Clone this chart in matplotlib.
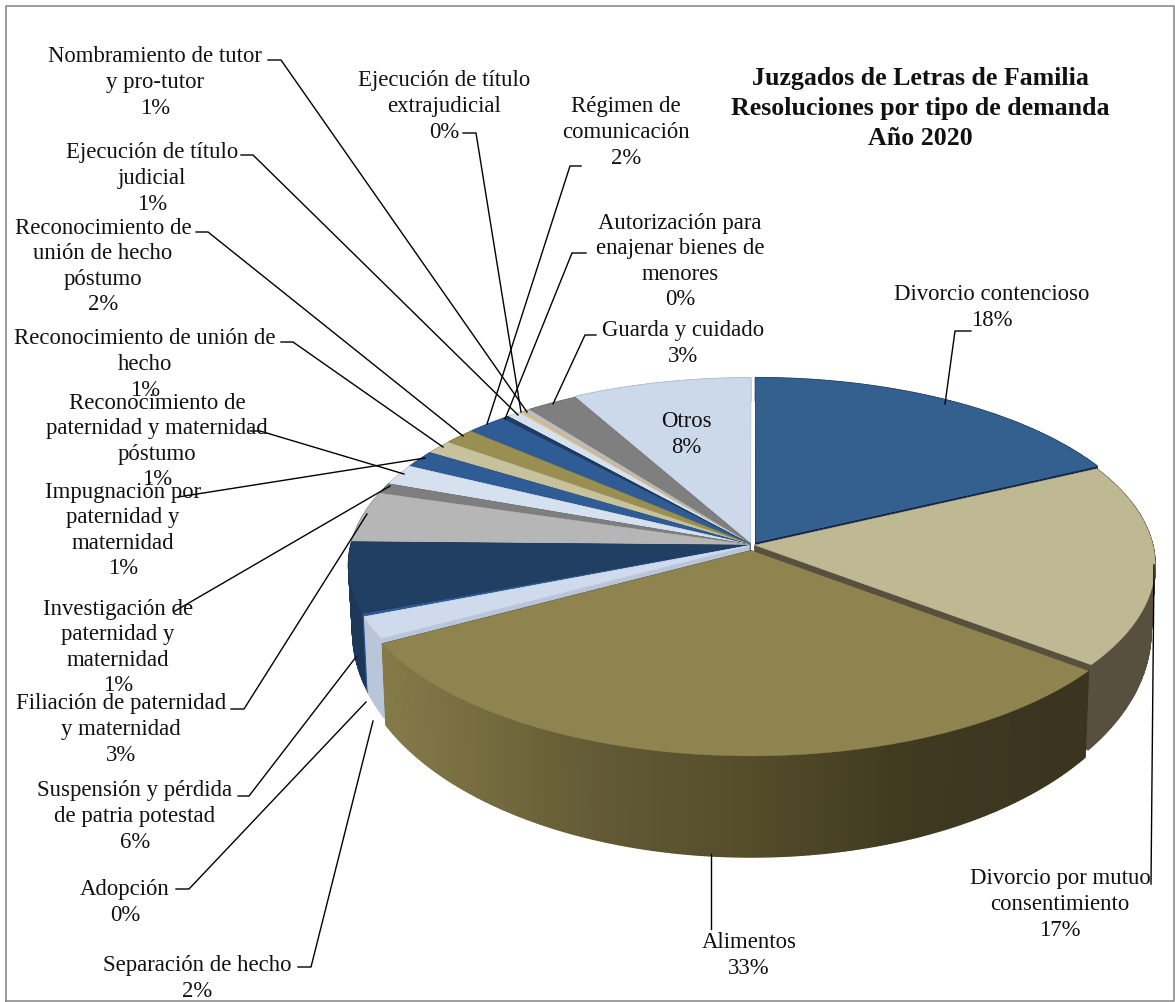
import numpy as np
import matplotlib
matplotlib.use('Agg')
import matplotlib.pyplot as plt
from matplotlib.colors import to_rgb

plt.rcParams['font.family'] = ['Liberation Serif', 'DejaVu Serif']

# slices, clockwise from 12 o'clock
nombres = ['Divorcio contencioso', 'Divorcio por mutuo\nconsentimiento', 'Alimentos',
           'Separación de hecho', 'Adopción', 'Suspensión y pérdida\nde patria potestad',
           'Filiación de paternidad\ny maternidad', 'Investigación de\npaternidad y\nmaternidad',
           'Impugnación por\npaternidad y\nmaternidad',
           'Reconocimiento de\npaternidad y maternidad\npóstumo',
           'Reconocimiento de unión de\nhecho', 'Reconocimiento de\nunión de hecho\npóstumo',
           'Régimen de\ncomunicación', 'Autorización para\nenajenar bienes de\nmenores',
           'Ejecución de título\njudicial', 'Ejecución de título\nextrajudicial',
           'Nombramiento de tutor\ny pro-tutor', 'Guarda y cuidado', 'Otros']
valores = [17.8, 17.7, 31.5, 1.9, 0.2, 6.2, 4.4, 0.9, 1.8, 1.5, 1.2, 1.4, 1.8, 0.3, 0.6, 0.15, 0.35, 2.3, 8.0]
etiquetas = ['18%', '17%', '33%', '2%', '0%', '6%', '3%', '1%', '1%', '1%', '1%', '2%', '2%', '0%', '1%', '0%', '1%', '3%', '8%']
colores = ['#34608F', '#BEB992', '#8F844F', '#CFDBEC', '#2F5C94', '#213E63', '#B6B6B6', '#7E7E7E', '#D6E1F0',
           '#2F5C94', '#C8C29C', '#9A8F52', '#2F5C94', '#1F3C60', '#D6E1F0', '#EBC27A', '#BDBDBD', '#7F7F7F', '#CCD9EB']
laterales = ['#14294F', '#57503F', '#3A3420', '#B9C6DA', '#2A5288', '#1D3759', '#8A8A8A', '#5E5E5E', '#A9B4C4',
             '#254A78', '#98936F', '#6F673A', '#254A78', '#182F4C', '#A9B4C4', '#B89758', '#8F8F8F', '#5F5F5F', '#9AA6B8']
separacion = [0.018, 0.007, 0.03] + [0.008] * 15 + [0.014]

# position of each text (centre x, centre y) and its leader line
pos_texto = [(992, 305), (1060, 902), (749, 953), (197, 976), (125, 900), (135, 814), (121, 727), (118, 645), (123, 528),
             (157, 439), (145, 362), (103, 264), (626, 130), (680, 259), (152, 176), (444, 104), (155, 80), (683, 341), (686, 432)]
lineas = [[(971, 332), (955, 332), (945, 405)], [(1154, 566), (1151, 885)], [(711, 855), (711, 930)],
          [(298, 968), (311, 968), (373, 722)], [(176, 890), (189, 890), (366, 703)], [(238, 797), (249, 797), (356, 658)],
          [(231, 710), (244, 710), (367, 515)], [(175, 612), (390, 487)], [(178, 498), (425, 459)],
          [(250, 432), (260, 432), (404, 475)], [(281, 343), (293, 343), (443, 448)], [(196, 233), (208, 233), (463, 437)],
          [(581, 167), (570, 167), (487, 425)], [(586, 254), (572, 254), (505, 420)], [(241, 156), (253, 156), (518, 416)],
          [(463, 134), (476, 134), (521, 413)], [(268, 61), (281, 61), (527, 413)], [(596, 336), (585, 336), (553, 405)], None]

titulo = 'Juzgados de Letras de Familia\nResoluciones por tipo de demanda\nAño 2020'

# shading along the side of Alimentos
grad_x = [385, 600, 750, 900, 1090]
grad_c = np.array([to_rgb(c) for c in ['#857A48', '#625A35', '#544D2A', '#403A21', '#3A3420']])

cx, cy, R, b, k = 752, 546, 398, 182.5, 0.1056

def proyecta(X, Y):
    s = 1 / (1 - k * Y)
    return cx + R * X * s, cy + b * Y * s

def abajo(x, y, Y):
    return cx + (x - cx) * 0.99, y + 62 + 38 * Y

fig = plt.figure(figsize=(11.75, 10.03), dpi=100)
ax = fig.add_axes([0, 0, 1, 1])
ax.set_xlim(0, 1175)
ax.set_ylim(1003, 0)
ax.axis('off')

# frame of the chart
ax.plot([5.5, 5.5, 1173.5, 1173.5, 5.5], [1002, 6.5, 6.5, 1002, 1002], color='#8C8C8C', lw=1.2)

frac = np.cumsum([0] + valores) / sum(valores) * 2 * np.pi
orden = np.argsort([-np.cos((frac[i] + frac[i + 1]) / 2) for i in range(len(valores))])

for i in orden:
    a1, a2 = frac[i], frac[i + 1]
    mid = (a1 + a2) / 2
    ex = separacion[i]
    ox, oy = ex * np.sin(mid), -ex * np.cos(mid)
    t = np.linspace(a1, a2, max(int((a2 - a1) * 120), 2))
    Xs, Ys = np.sin(t) + ox, -np.cos(t) + oy
    x, y = proyecta(Xs, Ys)
    xb, yb = abajo(x, y, Ys)
    x0, y0 = proyecta(ox, oy)
    x0b, y0b = abajo(x0, y0, oy)
    c = laterales[i]
    # radial walls
    ax.fill([x0, x[0], xb[0], x0b], [y0, y[0], yb[0], y0b], color=c, lw=0.5)
    ax.fill([x0, x[-1], xb[-1], x0b], [y0, y[-1], yb[-1], y0b], color=c, lw=0.5)
    # outer side, strip by strip
    for j in range(len(t) - 1):
        cj = c
        if i == 2:
            cj = tuple(np.interp(x[j], grad_x, grad_c[:, n]) for n in range(3))
        ax.fill([x[j], x[j + 1], xb[j + 1], xb[j]], [y[j], y[j + 1], yb[j + 1], yb[j]], color=cj, lw=1)
    # top of the slice
    ax.fill(np.r_[x0, x], np.r_[y0, y], color=colores[i], lw=0.3)

for n, e, p, l in zip(nombres, etiquetas, pos_texto, lineas):
    ax.text(p[0], p[1] + 2.5, n + '\n' + e, ha='center', va='center', fontsize=16.4, color='#111111', linespacing=1.29)
    if l is not None:
        ax.plot([q[0] for q in l], [q[1] for q in l], color='black', lw=1)

ax.text(920, 108.5, titulo, ha='center', va='center', fontsize=18.6, fontweight='bold', color='#111111', linespacing=1.37)

fig.savefig('out.png', dpi=100)
